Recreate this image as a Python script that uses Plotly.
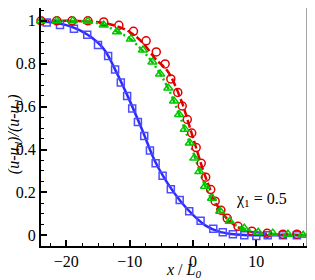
import plotly.graph_objects as go

# ---- data ----
blue_x = [-23.1, -21.0, -18.8, -16.7, -15.0, -13.4, -12.3, -11.4, -10.4, -9.6, -8.7, -7.7,
          -6.8, -5.9, -4.8, -3.5, -2.1, -0.6, 1.2, 3.2, 4.7, 6.3, 8.1, 10.0, 11.8, 14.2, 16.4]
blue_y = [0.992, 0.981, 0.963, 0.935, 0.888, 0.836, 0.773, 0.713, 0.650, 0.591, 0.528, 0.463,
          0.395, 0.336, 0.278, 0.215, 0.164, 0.112, 0.068, 0.030, 0.014, 0.005, 0.0, -0.003, 0.0, 0.0, 0.0]
blue_line_x = [-24.0, -22.0, -20.0, -18.0, -16.0, -14.0, -12.0, -10.0, -8.0, -6.0, -4.0, -2.0,
               0.0, 2.0, 4.0, 6.0, 8.0, 10.0, 12.0, 14.0, 16.0, 18.0]
blue_line_y = [0.997, 0.992, 0.980, 0.958, 0.922, 0.865, 0.755, 0.628, 0.490, 0.345, 0.242, 0.160,
               0.095, 0.045, 0.018, 0.006, 0.001, 0.0, 0.0, 0.0, 0.0, 0.0]

red_x = [-24.0, -21.5, -19.1, -16.6, -14.1, -11.7, -9.4, -7.4, -5.8, -4.4, -3.5, -2.4, -1.7,
         -0.9, -0.2, 0.5, 1.3, 2.0, 2.8, 3.5, 4.4, 5.4, 7.1, 9.3, 11.7, 14.2, 16.4]
red_y = [1.0, 1.0, 1.0, 1.0, 0.995, 0.979, 0.951, 0.907, 0.855, 0.799, 0.729, 0.666, 0.603,
         0.540, 0.477, 0.409, 0.336, 0.271, 0.213, 0.159, 0.117, 0.079, 0.042, 0.019, 0.009, 0.005, 0.005]
red_line_x = [-24.0, -22.0, -20.0, -18.0, -16.0, -14.0, -12.0, -10.0, -8.0, -6.0, -4.0, -2.0,
              0.0, 2.0, 4.0, 6.0, 8.0, 10.0, 12.0, 14.0, 16.0, 18.0]
red_line_y = [1.0, 1.0, 1.0, 0.999, 0.996, 0.990, 0.975, 0.948, 0.900, 0.825, 0.765, 0.640,
              0.455, 0.270, 0.130, 0.060, 0.026, 0.012, 0.006, 0.003, 0.002, 0.001]

green_x = [-24.0, -21.5, -19.0, -16.6, -14.1, -12.0, -9.8, -7.9, -6.4, -5.2, -3.9, -3.0, -2.2,
           -1.3, -0.5, 0.2, 1.0, 1.9, 3.0, 4.3, 5.8, 8.1, 10.3, 12.6, 15.0, 17.4]
green_y = [1.0, 1.0, 1.0, 0.998, 0.981, 0.949, 0.916, 0.864, 0.808, 0.752, 0.687, 0.626, 0.563,
           0.495, 0.430, 0.360, 0.297, 0.229, 0.173, 0.112, 0.065, 0.033, 0.014, 0.010, 0.005, 0.0]
green_line_x = [-24.0, -22.0, -20.0, -18.0, -16.0, -14.0, -12.0, -10.0, -8.0, -6.0, -4.0, -2.0,
                0.0, 2.0, 4.0, 6.0, 8.0, 10.0, 12.0, 14.0, 16.0, 18.0]
green_line_y = [1.0, 1.0, 1.0, 0.999, 0.994, 0.980, 0.950, 0.918, 0.862, 0.790, 0.690, 0.550,
                0.390, 0.225, 0.120, 0.060, 0.032, 0.016, 0.008, 0.004, 0.002, 0.001]

x_tickvals = [-20, -10, 0, 10]
y_tickvals = [0, 0.2, 0.4, 0.6, 0.8, 1.0]
y_ticktext = ["0", "0.2", "0.4", "0.6", "0.8", "1"]

BLUE = "#2b2bff"
RED = "#e00000"
GREEN = "#00c800"
FONT = "Liberation Serif, Times New Roman, serif"

fig = go.Figure()

fig.add_trace(go.Scatter(x=blue_line_x, y=blue_line_y, mode="lines", line=dict(color=BLUE, width=2.5, shape="spline"),
                         showlegend=False, hoverinfo="skip"))
fig.add_trace(go.Scatter(x=red_line_x, y=red_line_y, mode="lines",
                         line=dict(color=RED, width=2.5, dash="8px,3px", shape="spline"),
                         showlegend=False, hoverinfo="skip"))
fig.add_trace(go.Scatter(x=green_line_x, y=green_line_y, mode="lines",
                         line=dict(color=GREEN, width=2.5, dash="7px,3px,2px,3px", shape="spline"),
                         showlegend=False, hoverinfo="skip"))

fig.add_trace(go.Scatter(x=blue_x, y=blue_y, mode="markers", cliponaxis=False,
                         marker=dict(symbol="square-open", size=7, color="#4d4dff", line=dict(width=1.5)),
                         showlegend=False))
fig.add_trace(go.Scatter(x=red_x, y=red_y, mode="markers", cliponaxis=False,
                         marker=dict(symbol="circle-open", size=8, color=RED, line=dict(width=1.5)),
                         showlegend=False))
fig.add_trace(go.Scatter(x=green_x, y=green_y, mode="markers", cliponaxis=False,
                         marker=dict(symbol="triangle-up-open", size=8, color=GREEN, line=dict(width=1.5)),
                         showlegend=False))

fig.add_annotation(x=10.8, y=0.165, xref="x", yref="y", text="χ<sub>1</sub> = 0.5", showarrow=False,
                   font=dict(family=FONT, size=16, color="black"))

# axis titles placed as annotations for exact positioning
fig.add_annotation(x=0.535, y=0, xref="paper", yref="paper", yshift=-24, xanchor="center", yanchor="middle",
                   text="<i>x</i> / <i>L<sub>0</sub></i>", showarrow=False,
                   font=dict(family=FONT, size=16, color="black"))
fig.add_annotation(x=0, y=0.47, xref="paper", yref="paper", xshift=-27, xanchor="center", yanchor="middle",
                   text="<i>(u-u<sub>d</sub>)/(u-u<sub>d</sub>)</i>", showarrow=False, textangle=-90,
                   font=dict(family=FONT, size=16, color="black"))

fig.add_shape(type="line", xref="paper", yref="paper", x0=1, x1=1, y0=0, y1=1,
              line=dict(color="#888888", width=1.5))

# the page body adds an 8px offset, so the figure is 8px smaller and has no top margin
fig.update_layout(
    width=307, height=272,
    margin=dict(l=33, r=8, t=0, b=34, autoexpand=False),
    paper_bgcolor="white", plot_bgcolor="white",
    font=dict(family=FONT, size=15, color="black"),
    xaxis=dict(range=[-24, 18], tickvals=x_tickvals, ticks="inside", ticklen=6, tickwidth=1.5,
               tickcolor="black", showgrid=False, zeroline=False, showline=True, linecolor="black",
               linewidth=2, mirror=True, automargin=False,
               minor=dict(dtick=2.5, tick0=0, ticks="inside", ticklen=3, tickcolor="black", tickwidth=1),
               tickfont=dict(family=FONT, size=16)),
    yaxis=dict(range=[-0.05, 1.06], tickvals=y_tickvals, ticktext=y_ticktext, ticks="inside", ticklen=6,
               tickwidth=1.5, tickcolor="black", showgrid=False, zeroline=False, showline=True,
               linecolor="black", linewidth=2, automargin=False,
               minor=dict(dtick=0.05, tick0=0, ticks="inside", ticklen=3, tickcolor="black", tickwidth=1),
               tickfont=dict(family=FONT, size=16)),
)

fig.write_html("out.html")
